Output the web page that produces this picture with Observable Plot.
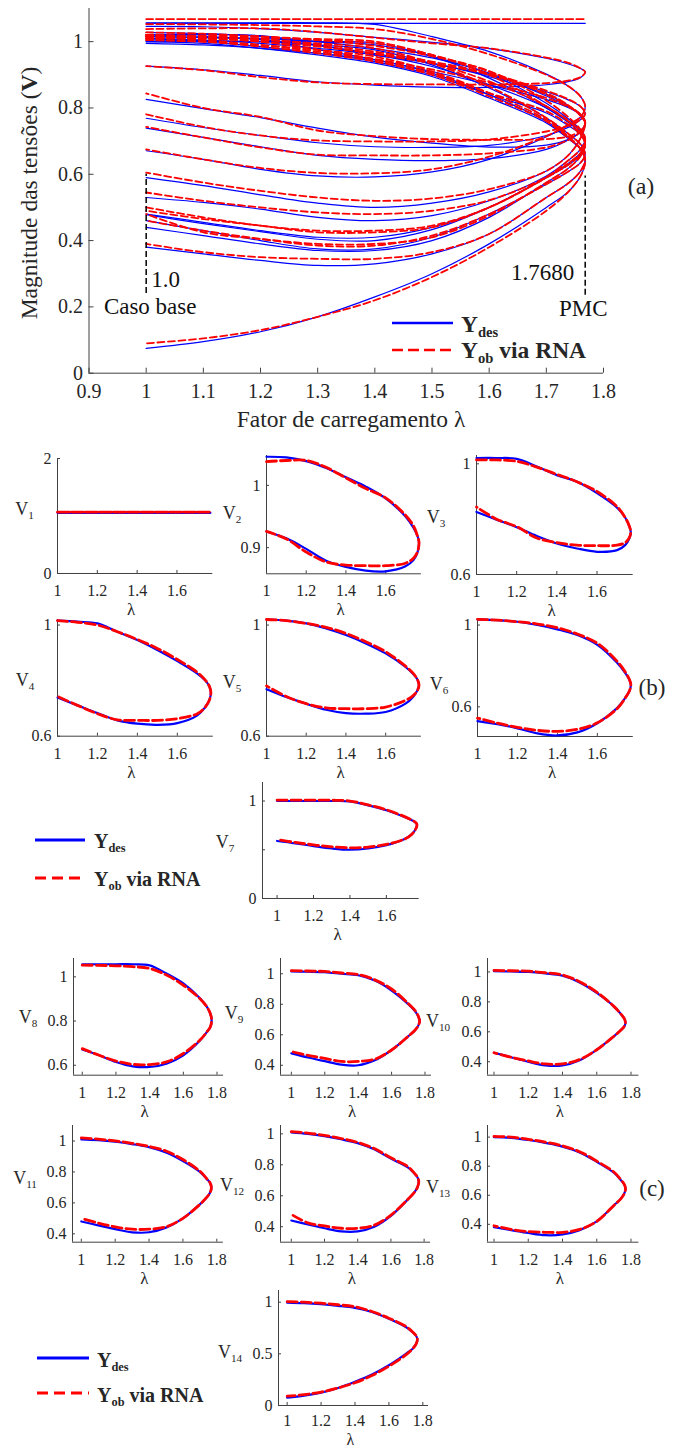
<!DOCTYPE html>
<html><head><meta charset="utf-8">
<script src="https://cdn.jsdelivr.net/npm/d3@7"></script>
<script src="https://cdn.jsdelivr.net/npm/@observablehq/plot@0.6"></script>
<style>
body{margin:0;background:#fff;}
#fig{position:relative;width:675px;height:1448px;font-family:"Liberation Serif","Times New Roman",serif;color:#262626;overflow:hidden;background:#fff;}
.lbl{position:absolute;white-space:nowrap;line-height:1;}
.sub{font-size:62%;position:relative;top:0.32em;}
</style></head><body><div id="fig"></div>
<script>
// ---------------- DATA ----------------
const busNames = ["1","2","3","4","5","6","7","8","9","10","11","12","13","14"];
const lambdaUpper = [1.0, 1.1, 1.2, 1.3, 1.4, 1.5, 1.6, 1.7, 1.74, 1.76, 1.768];
const lambdaLower = [1.0, 1.1, 1.2, 1.3, 1.4, 1.5, 1.6, 1.7, 1.74, 1.76];
const lambdaBase = 1.0;
const lambdaPMC = 1.768;

// desired (Ydes) voltages, upper branch (along lambdaUpper)
const desUpper = [
  [1.055,1.055,1.055,1.055,1.055,1.055,1.055,1.055,1.055,1.055,1.055],
  [1.046,1.045,1.039,1.028,1.013,0.998,0.979,0.950,0.932,0.919,0.909],
  [1.021,1.021,1.018,0.990,0.959,0.935,0.894,0.841,0.806,0.776,0.753],
  [1.016,1.012,1.006,0.976,0.946,0.910,0.870,0.825,0.800,0.780,0.757],
  [1.020,1.016,1.006,0.988,0.964,0.934,0.898,0.849,0.823,0.804,0.783],
  [1.028,1.024,1.016,1.000,0.979,0.951,0.903,0.814,0.765,0.733,0.708],
  [1.000,1.000,1.000,1.000,0.996,0.956,0.905,0.836,0.802,0.779,0.758],
  [1.057,1.057,1.057,1.057,1.052,1.015,0.970,0.902,0.864,0.834,0.804],
  [1.015,1.013,1.010,1.000,0.990,0.955,0.890,0.800,0.755,0.720,0.690],
  [1.005,1.003,1.000,0.990,0.975,0.930,0.860,0.770,0.720,0.690,0.660],
  [1.010,1.005,0.995,0.980,0.960,0.925,0.870,0.800,0.755,0.730,0.700],
  [1.010,1.000,0.985,0.965,0.940,0.900,0.840,0.785,0.745,0.720,0.690],
  [1.000,0.995,0.980,0.960,0.935,0.895,0.830,0.755,0.705,0.675,0.645],
  [0.995,0.990,0.980,0.965,0.945,0.905,0.840,0.760,0.710,0.675,0.640]
];
// desired voltages, lower branch (along lambdaLower)
const desLower = [
  [1.055,1.055,1.055,1.055,1.055,1.055,1.055,1.055,1.055,1.055],
  [0.926,0.915,0.898,0.879,0.869,0.863,0.862,0.870,0.880,0.892],
  [0.826,0.798,0.771,0.739,0.712,0.694,0.682,0.688,0.706,0.729],
  [0.739,0.711,0.683,0.657,0.645,0.641,0.647,0.675,0.705,0.729],
  [0.769,0.741,0.717,0.695,0.683,0.681,0.687,0.717,0.743,0.765],
  [0.530,0.515,0.495,0.470,0.460,0.475,0.520,0.595,0.644,0.676],
  [0.590,0.566,0.538,0.513,0.500,0.513,0.547,0.610,0.660,0.710],
  [0.671,0.645,0.615,0.595,0.592,0.607,0.645,0.713,0.751,0.773],
  [0.478,0.451,0.427,0.404,0.400,0.433,0.500,0.590,0.630,0.660],
  [0.460,0.430,0.400,0.375,0.375,0.410,0.480,0.570,0.610,0.635],
  [0.480,0.455,0.430,0.410,0.410,0.440,0.500,0.590,0.635,0.665],
  [0.440,0.415,0.390,0.370,0.370,0.400,0.470,0.575,0.620,0.655],
  [0.380,0.360,0.340,0.325,0.330,0.360,0.420,0.530,0.575,0.610],
  [0.075,0.095,0.125,0.170,0.230,0.300,0.390,0.500,0.550,0.595]
];
// ANN estimate (Yob via RNA), upper branch
const obUpper = [
  [1.068,1.068,1.068,1.068,1.068,1.068,1.068,1.068,1.068,1.068,1.068],
  [1.038,1.040,1.040,1.029,1.012,0.995,0.980,0.952,0.935,0.919,0.908],
  [1.014,1.014,1.009,0.988,0.962,0.935,0.900,0.845,0.806,0.776,0.753],
  [1.016,1.010,1.000,0.976,0.948,0.916,0.876,0.830,0.802,0.780,0.757],
  [1.020,1.016,1.006,0.992,0.970,0.940,0.904,0.852,0.825,0.804,0.783],
  [1.028,1.024,1.016,1.005,0.987,0.956,0.911,0.822,0.770,0.735,0.708],
  [1.010,1.010,1.010,1.008,1.000,0.960,0.910,0.840,0.805,0.780,0.758],
  [1.053,1.052,1.050,1.046,1.038,1.008,0.962,0.900,0.864,0.834,0.804],
  [1.020,1.018,1.015,1.005,0.995,0.960,0.900,0.805,0.760,0.722,0.690],
  [1.010,1.008,1.005,0.995,0.980,0.935,0.865,0.770,0.720,0.690,0.660],
  [1.020,1.012,1.000,0.985,0.965,0.935,0.880,0.805,0.758,0.730,0.700],
  [1.015,1.005,0.990,0.970,0.945,0.905,0.845,0.790,0.748,0.720,0.690],
  [1.005,1.000,0.985,0.965,0.940,0.900,0.835,0.760,0.708,0.676,0.645],
  [1.005,1.000,0.990,0.975,0.955,0.910,0.845,0.765,0.712,0.676,0.640]
];
// ANN estimate, lower branch
const obLower = [
  [1.068,1.068,1.068,1.068,1.068,1.068,1.068,1.068,1.068,1.068],
  [0.926,0.914,0.893,0.877,0.872,0.871,0.871,0.875,0.883,0.893],
  [0.844,0.800,0.773,0.732,0.715,0.706,0.704,0.706,0.715,0.732],
  [0.743,0.711,0.681,0.659,0.657,0.657,0.663,0.681,0.705,0.729],
  [0.781,0.743,0.717,0.702,0.699,0.699,0.705,0.729,0.747,0.765],
  [0.545,0.520,0.500,0.485,0.480,0.490,0.522,0.592,0.644,0.676],
  [0.605,0.575,0.550,0.530,0.520,0.527,0.555,0.610,0.660,0.710],
  [0.675,0.645,0.619,0.604,0.603,0.615,0.653,0.715,0.751,0.773],
  [0.490,0.465,0.445,0.425,0.425,0.440,0.500,0.590,0.630,0.660],
  [0.460,0.430,0.405,0.385,0.385,0.415,0.480,0.570,0.610,0.635],
  [0.500,0.470,0.445,0.430,0.430,0.445,0.500,0.590,0.635,0.665],
  [0.480,0.425,0.405,0.390,0.390,0.410,0.475,0.575,0.620,0.655],
  [0.390,0.365,0.350,0.345,0.345,0.365,0.420,0.530,0.575,0.610],
  [0.090,0.105,0.130,0.170,0.220,0.290,0.380,0.490,0.550,0.595]
];

// tick values
const xTicksA = [0.9,1.0,1.1,1.2,1.3,1.4,1.5,1.6,1.7,1.8];
const yTicksA = [0,0.2,0.4,0.6,0.8,1.0];
const xTicksShort = [1,1.2,1.4,1.6];
const xTicksLong = [1,1.2,1.4,1.6,1.8];
const markerSpanBase = [0.24, 0.60];
const markerSpanPMC = [0.235, 0.595];
const annotationText = ["1.0", "Caso base", "1.7680", "PMC"];
const annotationV = [0.283, 0.200, 0.303, 0.195];

// ---------------- STYLE / LAYOUT ----------------
const BLUE = "#0000ff", RED = "#ff0000", AX = "#404040", TXT = "#262626";
const FONT = '"Liberation Serif","Times New Roman",serif';
const fig = document.getElementById("fig");
const fmt = d => String(+(+d).toFixed(3));

function path(up, low) {
  const a = lambdaUpper.map((l, i) => ({lam: l, v: up[i]}));
  const b = lambdaLower.map((l, i) => ({lam: l, v: low[i]})).reverse();
  return a.concat(b);
}
function place(svg, left, top) {
  svg.style.position = "absolute";
  svg.style.left = left + "px";
  svg.style.top = top + "px";
  fig.appendChild(svg);
}
function label(html, x, y, size, anchor = "middle", extra = "") {
  const d = document.createElement("div");
  d.className = "lbl";
  d.innerHTML = html;
  const tx = anchor === "start" ? "0" : anchor === "end" ? "-100%" : "-50%";
  d.style.cssText += `left:${x}px;top:${y}px;font-size:${size}px;transform:translate(${tx},-50%) ${extra};`;
  fig.appendChild(d);
  return d;
}
function legendLine(x1, x2, y, color, width, dash) {
  const ns = "http://www.w3.org/2000/svg";
  const s = document.createElementNS(ns, "svg");
  s.setAttribute("width", x2 - x1); s.setAttribute("height", 10);
  s.style.cssText = `position:absolute;left:${x1}px;top:${y - 5}px;overflow:visible`;
  const l = document.createElementNS(ns, "line");
  l.setAttribute("x1", 0); l.setAttribute("x2", x2 - x1); l.setAttribute("y1", 5); l.setAttribute("y2", 5);
  l.setAttribute("stroke", color); l.setAttribute("stroke-width", width);
  if (dash) l.setAttribute("stroke-dasharray", dash);
  s.appendChild(l); fig.appendChild(s);
}

// ---------------- PANEL (a) ----------------
{
  const mL = 88.5, mR = 72, mT = 8, mB = 60, H = 364.7, W = 675 - mL - mR;
  const blue = busNames.map((_, i) => Plot.line(path(desUpper[i], desLower[i]), {x: "lam", y: "v", stroke: BLUE, strokeWidth: 1.2, curve: "catmull-rom"}));
  const red = busNames.map((_, i) => Plot.line(path(obUpper[i], obLower[i]), {x: "lam", y: "v", stroke: RED, strokeWidth: 1.8, strokeDasharray: "7,3.5", curve: "catmull-rom"}));
  const svg = Plot.plot({
    width: 675, height: mT + H + mB,
    marginLeft: mL, marginRight: mR, marginTop: mT, marginBottom: mB,
    x: {domain: [0.9, 1.8]}, y: {domain: [0, 1.1]},
    style: {background: "transparent", fontFamily: FONT, fontSize: "20px", color: TXT, overflow: "visible"},
    marks: [
      Plot.ruleY([0], {stroke: AX}),
      Plot.ruleX([0.9], {stroke: AX}),
      Plot.tickX(xTicksA, {x: d => d, stroke: AX, insetTop: H - 5}),
      Plot.tickY(yTicksA, {y: d => d, stroke: AX, insetRight: W - 5}),
      Plot.axisX({ticks: xTicksA, tickSize: 0, tickPadding: 11, tickFormat: fmt, label: null, fontSize: 20}),
      Plot.axisY({ticks: yTicksA, tickSize: 0, tickPadding: 6, tickFormat: fmt, label: null, fontSize: 20}),
      ...blue, ...red,
      Plot.ruleX([lambdaBase], {y1: markerSpanBase[0], y2: markerSpanBase[1], stroke: "#000", strokeWidth: 1.5, strokeDasharray: "6,3"}),
      Plot.ruleX([lambdaPMC], {y1: markerSpanPMC[0], y2: markerSpanPMC[1], stroke: "#000", strokeWidth: 1.5, strokeDasharray: "6,3"}),
      Plot.text([annotationText[0]], {x: lambdaBase, y: annotationV[0], text: d => d, textAnchor: "start", dx: 5, fontSize: 23, fill: "#111"}),
      Plot.text([annotationText[1]], {x: lambdaBase, y: annotationV[1], text: d => d, textAnchor: "middle", dx: 4, fontSize: 23, fill: "#111"}),
      Plot.text([annotationText[2]], {x: lambdaPMC, y: annotationV[2], text: d => d, textAnchor: "end", dx: -11, fontSize: 23, fill: "#111"}),
      Plot.text([annotationText[3]], {x: lambdaPMC, y: annotationV[3], text: d => d, textAnchor: "middle", dx: -2, fontSize: 23, fill: "#111"})
    ]
  });
  place(svg, 0, 0);
  label("Fator de carregamento λ", 351, 420, 23.5);
  label("Magnitude das tensões (<b>V</b>)", 30, 193, 23.5, "middle", "rotate(-90deg)");
  label("(a)", 641, 186, 24);
  legendLine(392, 453, 323, BLUE, 2.5);
  legendLine(392, 453, 350, RED, 2.5, "11,5");
  label('<b>Y<span class="sub">des</span></b>', 461, 325, 23.5, "start");
  label('<b>Y<span class="sub">ob</span> via RNA</b>', 461, 351, 23.5, "start");
}

// ---------------- SMALL PANELS (b), (c) ----------------
const smallPanels = [
  {bus: 0,  left: 56.5,  right: 211.8, top: 458.3, bottom: 573.3, xd: [1, 1.78], yd: [0, 2], xt: xTicksShort, yt: [0, 2], lx: 24.5, ly: 509},
  {bus: 1,  left: 266.2, right: 421.1, top: 455, bottom: 573.3, xd: [1, 1.78], yd: [0.858, 1.048], xt: xTicksShort, yt: [0.9, 1], lx: 232, ly: 513},
  {bus: 2,  left: 476.3, right: 633,   top: 455, bottom: 574, xd: [1, 1.78], yd: [0.6, 1.03], xt: xTicksShort, yt: [0.6, 1], lx: 436, ly: 517},
  {bus: 3,  left: 56.5,  right: 212.3, top: 619, bottom: 735.7, xd: [1, 1.78], yd: [0.6, 1.02], xt: xTicksShort, yt: [0.6, 1], lx: 25, ly: 680},
  {bus: 4,  left: 266.2, right: 421.1, top: 619, bottom: 735.7, xd: [1, 1.78], yd: [0.6, 1.02], xt: xTicksShort, yt: [0.6, 1], lx: 232, ly: 682},
  {bus: 5,  left: 477.2, right: 633,   top: 618, bottom: 736, xd: [1, 1.78], yd: [0.455, 1.032], xt: xTicksShort, yt: [0.6, 1], lx: 439, ly: 684},
  {bus: 6,  left: 262.3, right: 419,   top: 781.7, bottom: 897.7, xd: [0.92, 1.78], yd: [0, 1.19], xt: xTicksShort, yt: [0, 1], ym: [0, 0.5, 1], lx: 225, ly: 842},
  {bus: 7,  left: 72.6,  right: 222.7, top: 958.3, bottom: 1075, xd: [0.948, 1.839], yd: [0.555, 1.083], xt: xTicksLong, yt: [0.6, 0.8, 1], lx: 28, ly: 1017},
  {bus: 8,  left: 279.7, right: 430.7, top: 958.3, bottom: 1075, xd: [0.935, 1.839], yd: [0.335, 1.1], xt: xTicksLong, yt: [0.4, 0.6, 0.8, 1], lx: 234, ly: 1013},
  {bus: 9,  left: 487.2, right: 638.6, top: 958.3, bottom: 1075, xd: [0.962, 1.846], yd: [0.31, 1.09], xt: xTicksLong, yt: [0.4, 0.6, 0.8, 1], lx: 438, ly: 1021},
  {bus: 10, left: 71.8,  right: 222.7, top: 1125, bottom: 1241.7, xd: [0.948, 1.839], yd: [0.346, 1.1], xt: xTicksLong, yt: [0.4, 0.6, 0.8, 1], lx: 25, ly: 1178},
  {bus: 11, left: 279.7, right: 429.8, top: 1125, bottom: 1241.7, xd: [0.935, 1.839], yd: [0.3, 1.054], xt: xTicksLong, yt: [0.4, 0.6, 0.8, 1], lx: 232, ly: 1185},
  {bus: 12, left: 487.2, right: 638.6, top: 1125, bottom: 1241.7, xd: [0.962, 1.846], yd: [0.277, 1.08], xt: xTicksLong, yt: [0.4, 0.6, 0.8, 1], lx: 438, ly: 1187},
  {bus: 13, left: 278.4, right: 428.5, top: 1290, bottom: 1405, xd: [0.949, 1.834], yd: [0, 1.113], xt: xTicksLong, yt: [0, 0.5, 1], lx: 230, ly: 1352}
];

for (const p of smallPanels) {
  const mL = 45, mR = 15, mT = 12, mB = 30;
  const W = p.right - p.left, H = p.bottom - p.top;
  const i = p.bus;
  const last = p.bottom > 1400;
  const svg = Plot.plot({
    width: W + mL + mR, height: H + mT + mB,
    marginLeft: mL, marginRight: mR, marginTop: mT, marginBottom: mB,
    x: {domain: p.xd}, y: {domain: p.yd},
    style: {background: "transparent", fontFamily: FONT, fontSize: "16px", color: TXT, overflow: "visible"},
    marks: [
      Plot.ruleY([p.yd[0]], {stroke: AX}),
      Plot.ruleX([p.xd[0]], {stroke: AX}),
      Plot.tickX(p.xt, {x: d => d, stroke: AX, insetTop: H - 3}),
      Plot.tickY(p.ym || p.yt, {y: d => d, stroke: AX, insetRight: W - 3}),
      Plot.axisX({ticks: p.xt, tickSize: 0, tickPadding: last ? 9 : 11, tickFormat: fmt, label: null, fontSize: 16}),
      Plot.axisY({ticks: p.yt, tickSize: 0, tickPadding: 6, tickFormat: fmt, label: null, fontSize: 16}),
      Plot.line(path(desUpper[i], desLower[i]), {x: "lam", y: "v", stroke: BLUE, strokeWidth: 2.2, curve: "catmull-rom"}),
      Plot.line(path(obUpper[i], obLower[i]), {x: "lam", y: "v", stroke: RED, strokeWidth: 2.8, strokeDasharray: "10,4", curve: "catmull-rom"})
    ]
  });
  place(svg, p.left - mL, p.top - mT);
  label(`V<span class="sub">${busNames[i]}</span>`, p.lx, p.ly, 18);
  if (last) label("λ", (p.left + p.right) / 2 - 3, 1440, 16);
  else label("λ", (p.left + p.right) / 2 - 3, p.bottom + 36, 17);
}

label("(b)", 652, 687, 23);
label("(c)", 652, 1188, 23);
// legends (b) and (c)
legendLine(35, 85, 840, BLUE, 3);
legendLine(35, 85, 878, RED, 3, "11,6");
label('<b>Y<span class="sub">des</span></b>', 94, 841, 20, "start");
label('<b>Y<span class="sub">ob</span> via RNA</b>', 94, 879, 20, "start");
legendLine(37, 89, 1358, BLUE, 3);
legendLine(37, 89, 1393, RED, 3, "11,6");
label('<b>Y<span class="sub">des</span></b>', 97, 1360, 20, "start");
label('<b>Y<span class="sub">ob</span> via RNA</b>', 97, 1395, 20, "start");
</script></body></html>
